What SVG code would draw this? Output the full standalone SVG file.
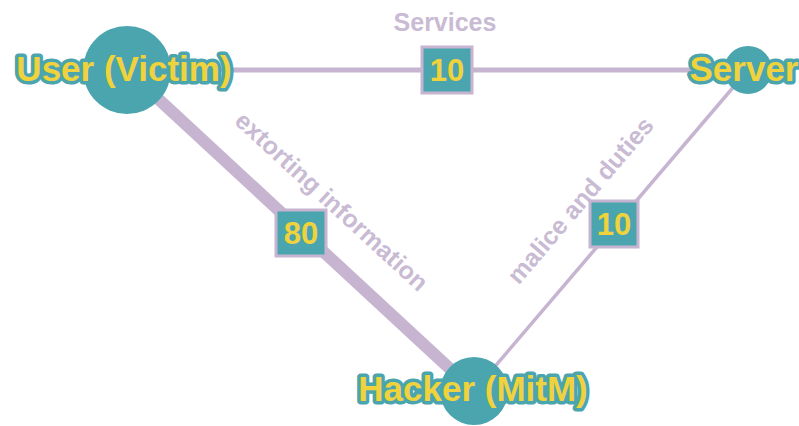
<svg xmlns="http://www.w3.org/2000/svg" width="799" height="426" viewBox="0 0 799 426">
  <style>
    .edge { stroke: #c6b4d0; fill: none; stroke-linecap: butt; }
    .wbox { fill: #4aa5ae; stroke: #c6b4d0; stroke-width: 3; }
    .wtxt { font-family: "Liberation Sans", Arial, sans-serif; font-weight: bold; font-size: 31px; fill: #f0d23c; text-anchor: middle; }
    .etxt { font-family: "Liberation Sans", Arial, sans-serif; font-weight: bold; font-size: 25px; fill: #c9bbd3; text-anchor: middle; }
    .node { fill: #4aa5ae; }
    .ntxt { font-family: "Liberation Sans", Arial, sans-serif; font-weight: bold; font-size: 35px; fill: #f0d23c; stroke: #4aa5ae; stroke-width: 7; stroke-linejoin: round; paint-order: stroke; text-anchor: middle; }
  </style>

  <!-- connectors with their weights and labels -->
  <g id="connectors">
    <line class="edge" x1="127" y1="70" x2="748" y2="70" stroke-width="5"/>
    <line class="edge" x1="127" y1="70" x2="474" y2="391" stroke-width="12"/>
    <line class="edge" x1="748" y1="70" x2="474" y2="391" stroke-width="3.5"/>

    <text class="etxt" x="445" y="31">Services</text>
    <text class="etxt" transform="translate(332,201) rotate(42.5)" x="0" y="9" font-size="26">extorting information</text>
    <text class="etxt" transform="translate(580,200) rotate(-49.5)" x="0" y="9" font-size="26">malice and duties</text>

    <rect class="wbox" x="422" y="47" width="50" height="46"/>
    <text class="wtxt" x="447" y="81">10</text>
    <rect class="wbox" x="276" y="210" width="50" height="46"/>
    <text class="wtxt" x="301" y="244">80</text>
    <rect class="wbox" x="590" y="201" width="48" height="46"/>
    <text class="wtxt" x="614" y="235">10</text>
  </g>

  <g id="node-user">
    <circle class="node" cx="127" cy="70" r="44"/>
    <text class="ntxt" x="124" y="81">User (Victim)</text>
  </g>

  <g id="node-server">
    <circle class="node" cx="748" cy="70" r="24"/>
    <text class="ntxt" x="744" y="81" font-size="33">Server</text>
  </g>

  <g id="node-hacker">
    <circle class="node" cx="474" cy="391" r="34"/>
    <text class="ntxt" x="473" y="401">Hacker (MitM)</text>
  </g>
</svg>
